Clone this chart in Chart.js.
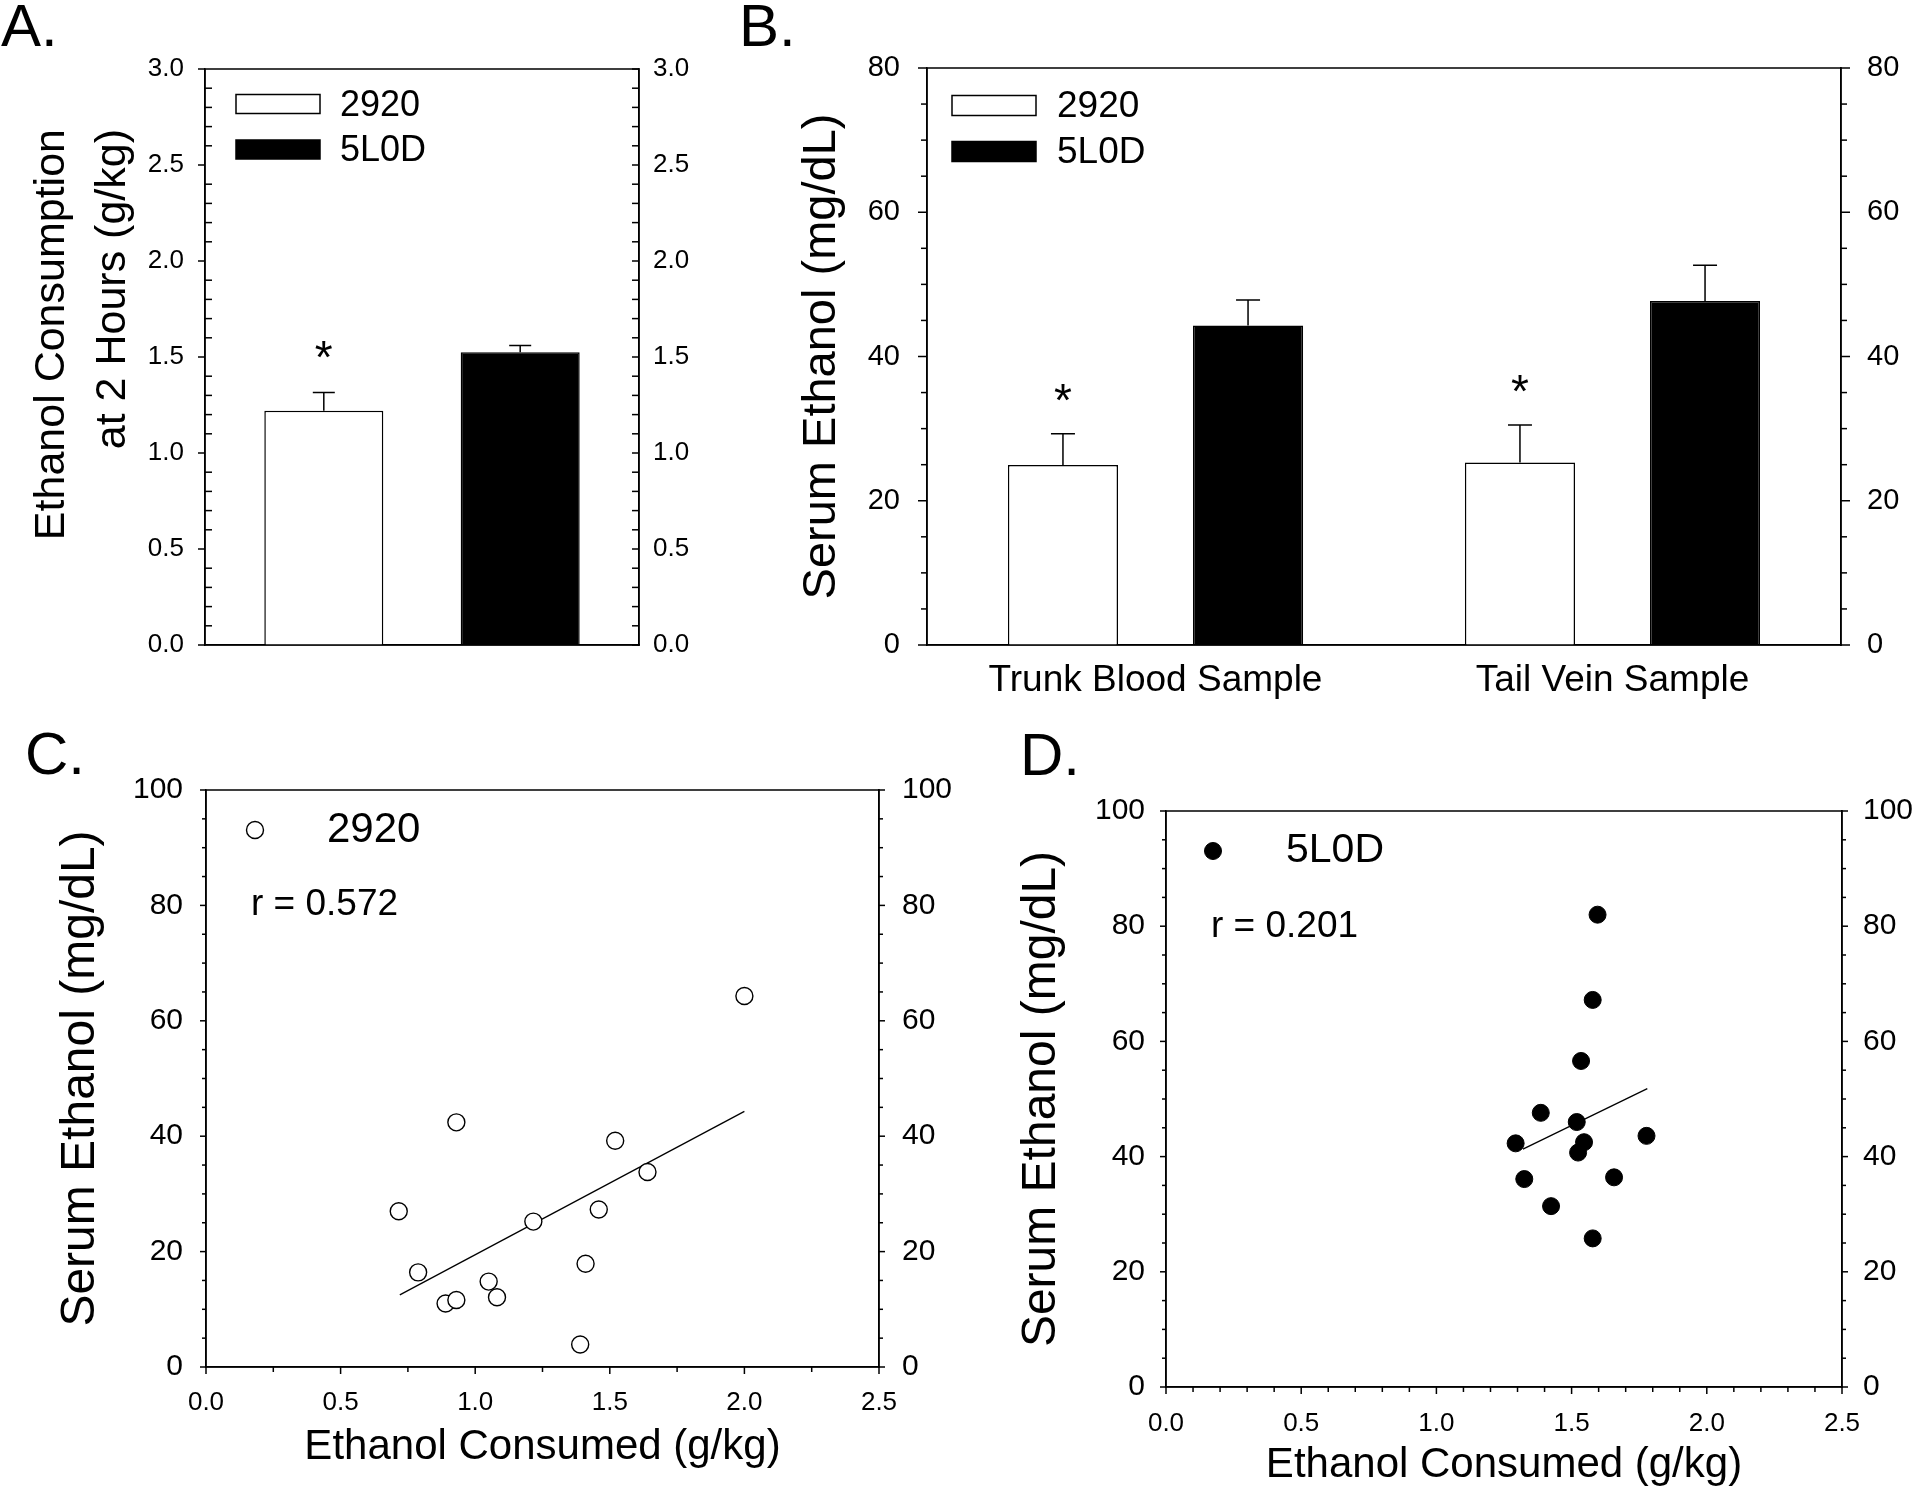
<!DOCTYPE html>
<html><head><meta charset="utf-8">
<script src="https://cdn.jsdelivr.net/npm/chart.js@4.4.1/dist/chart.umd.min.js"></script>
<style>
html,body{margin:0;padding:0;background:#fff;}
#wrap{position:relative;width:1915px;height:1493px;overflow:hidden;background:#fff;}
canvas{position:absolute;left:0;top:0;}
</style></head><body>
<div id="wrap">
<canvas id="cA" width="1915" height="1493"></canvas>
<canvas id="cB" width="1915" height="1493"></canvas>
<canvas id="cC" width="1915" height="1493"></canvas>
<canvas id="cD" width="1915" height="1493"></canvas>
</div>
<script>
// ---------------- DATA ----------------
const groups = ['2920', '5L0D'];

// Panel A: ethanol consumption at 2 hours (g/kg)
const consumptionMeans = [1.22, 1.525];
const consumptionSEM   = [0.095, 0.035];
const consumptionSig   = ['*', ''];

// Panel B: serum ethanol (mg/dL)
const sampleCategories = ['Trunk Blood Sample', 'Tail Vein Sample'];
const serum2920     = [24.95, 25.3];
const serum2920SEM  = [4.35, 5.2];
const serum2920Sig  = ['*', '*'];
const serum5L0D     = [44.3, 47.7];
const serum5L0DSEM  = [3.55, 4.95];
const serum5L0DSig  = ['', ''];

// Panel C: 2920 individual animals
const consumed2920 = [0.716, 0.788, 0.890, 0.930, 0.930, 1.050, 1.081, 1.216, 1.390, 1.410, 1.459, 1.520, 1.640, 2.000];
const serumInd2920 = [27.0, 16.4, 11.0, 11.6, 42.4, 14.8, 12.1, 25.2, 3.9, 17.9, 27.3, 39.2, 33.8, 64.3];
const fit2920X = [0.72, 2.0];
const fit2920Y = [12.5, 44.3];
const r2920 = 'r = 0.572';

// Panel D: 5L0D individual animals
const consumed5L0D = [1.293, 1.325, 1.386, 1.424, 1.519, 1.524, 1.535, 1.546, 1.578, 1.578, 1.596, 1.657, 1.777];
const serumInd5L0D = [42.3, 36.1, 47.6, 31.4, 46.0, 40.7, 56.6, 42.5, 67.2, 25.8, 82.0, 36.4, 43.6];
const fit5L0DX = [1.32, 1.78];
const fit5L0DY = [41.3, 51.8];
const r5L0D = 'r = 0.201';

const panelLetters = ['A.', 'B.', 'C.', 'D.'];
const titleA = ['Ethanol Consumption', 'at 2 Hours (g/kg)'];
const titleSerum = 'Serum Ethanol (mg/dL)';
const titleConsumed = 'Ethanol Consumed (g/kg)';

// ---------------- SETUP ----------------
const FONT = '"Liberation Sans", Arial, Helvetica, sans-serif';
Chart.defaults.font.family = FONT;
Chart.defaults.color = '#000';
Chart.defaults.animation = false;
Chart.defaults.plugins.legend.display = false;
Chart.defaults.plugins.tooltip.enabled = false;

const extras = {};

const decorPlugin = {
  id: 'decor',
  afterDraw(chart) {
    const cfg = extras[chart.canvas.id];
    if (!cfg) return;
    const ctx = chart.ctx, a = chart.chartArea;
    ctx.save();
    ctx.strokeStyle = '#000';
    ctx.lineWidth = 1.5;
    ctx.beginPath();
    ctx.rect(a.left, a.top, a.right - a.left, a.bottom - a.top);
    ctx.stroke();
    (cfg.ticks || []).forEach(t => {
      const s = chart.scales[t.id];
      const n = Math.round((s.max - s.min) / t.minor);
      for (let i = 0; i <= n; i++) {
        const v = s.min + i * t.minor;
        const q = v / t.major;
        const isMajor = Math.abs(q - Math.round(q)) < 1e-6;
        const len = isMajor ? t.majorLen : t.minorLen;
        const dir = isMajor ? t.majorDir : t.minorDir;
        const p = s.getPixelForValue(v);
        ctx.beginPath();
        if (s.isHorizontal()) {
          ctx.moveTo(p, a.bottom); ctx.lineTo(p, a.bottom + dir * len);
        } else {
          const x0 = s.position === 'left' ? a.left : a.right;
          const sg = s.position === 'left' ? -1 : 1;
          ctx.moveTo(x0, p); ctx.lineTo(x0 + sg * dir * len, p);
        }
        ctx.stroke();
      }
    });
    if (cfg.err) {
      const ys = chart.scales.y;
      chart.data.datasets.forEach((ds, di) => {
        if (!ds.errors) return;
        const meta = chart.getDatasetMeta(di);
        meta.data.forEach((el, i) => {
          const top = ys.getPixelForValue(ds.data[i] + ds.errors[i]);
          ctx.strokeStyle = '#000';
          ctx.lineWidth = 1.5;
          ctx.beginPath();
          ctx.moveTo(el.x, el.y); ctx.lineTo(el.x, top);
          ctx.moveTo(el.x - cfg.err.cap / 2, top); ctx.lineTo(el.x + cfg.err.cap / 2, top);
          ctx.stroke();
          if (ds.marks && ds.marks[i]) {
            ctx.fillStyle = '#000';
            ctx.font = cfg.err.markSize + 'px ' + FONT;
            ctx.textAlign = 'center';
            ctx.textBaseline = 'middle';
            ctx.fillText(ds.marks[i], el.x, top - cfg.err.markGap + 0.225 * cfg.err.markSize);
          }
        });
      });
    }
    if (cfg.legend) {
      const L = cfg.legend;
      let row = 0;
      chart.data.datasets.forEach(ds => {
        if (ds.inLegend === false) return;
        const cy = L.y + row * L.gap;
        ctx.strokeStyle = '#000';
        ctx.lineWidth = 1.5;
        if (L.kind === 'box') {
          ctx.fillStyle = ds.backgroundColor;
          ctx.fillRect(L.x, cy - L.h / 2, L.w, L.h);
          ctx.strokeRect(L.x, cy - L.h / 2, L.w, L.h);
        } else {
          ctx.beginPath();
          ctx.arc(L.x, cy, ds.pointRadius, 0, Math.PI * 2);
          ctx.fillStyle = ds.pointBackgroundColor;
          ctx.fill();
          ctx.lineWidth = ds.pointBorderWidth;
          ctx.stroke();
        }
        ctx.fillStyle = '#000';
        ctx.font = L.size + 'px ' + FONT;
        ctx.textAlign = 'left';
        ctx.textBaseline = 'middle';
        ctx.fillText(ds.label, L.textX, cy + (L.dy || 0));
        row++;
      });
    }
    (cfg.texts || []).forEach(t => {
      ctx.save();
      ctx.fillStyle = '#000';
      ctx.font = t.size + 'px ' + FONT;
      ctx.textAlign = t.align || 'left';
      ctx.textBaseline = t.baseline || 'middle';
      ctx.translate(t.x, t.y);
      if (t.rot) ctx.rotate(t.rot);
      ctx.fillText(t.text, 0, 0);
      ctx.restore();
    });
    ctx.restore();
  }
};
Chart.register(decorPlugin);

const BORDER = {display: true, color: '#000', width: 1.5};
const NOGRID = {display: false, drawTicks: false};
const tickFont = size => ({size: size, family: FONT});

// ---------------- PANEL A ----------------
extras.cA = {
  ticks: [
    {id: 'y', major: 0.5, minor: 0.1, majorLen: 7, minorLen: 7, majorDir: 1, minorDir: -1},
    {id: 'y2', major: 0.5, minor: 0.1, majorLen: 7, minorLen: 7, majorDir: -1, minorDir: -1}
  ],
  err: {cap: 22, markGap: 43, markSize: 46},
  legend: {kind: 'box', x: 236, y: 104, gap: 45.5, w: 84, h: 19, textX: 340, size: 36, dy: 2},
  texts: [
    {text: panelLetters[0], x: 1, y: 46, size: 60, baseline: 'alphabetic'},
    {text: titleA[0], x: 52, y: 129, size: 43, align: 'right', rot: -Math.PI / 2},
    {text: titleA[1], x: 113, y: 129, size: 43, align: 'right', rot: -Math.PI / 2}
  ]
};
new Chart(document.getElementById('cA'), {
  type: 'bar',
  data: {
    labels: [''],
    datasets: [
      {label: groups[0], data: [consumptionMeans[0]], errors: [consumptionSEM[0]], marks: [consumptionSig[0]],
       backgroundColor: '#fff', borderColor: '#000', borderWidth: 1.5, categoryPercentage: 0.905, barPercentage: 0.606},
      {label: groups[1], data: [consumptionMeans[1]], errors: [consumptionSEM[1]], marks: [consumptionSig[1]],
       backgroundColor: '#000', borderColor: '#000', borderWidth: 1.5, categoryPercentage: 0.905, barPercentage: 0.606}
    ]
  },
  options: {
    responsive: false,
    layout: {padding: {left: 100, right: 1196, top: 69, bottom: 848}},
    scales: {
      x: {grid: NOGRID, border: BORDER, ticks: {display: false}, afterFit: s => { s.height = 0; }},
      y: {min: 0, max: 3, grid: NOGRID, border: BORDER,
          ticks: {stepSize: 0.5, padding: 21, font: tickFont(26), color: '#000', callback: v => Number(v).toFixed(1)},
          afterFit: s => { s.width = 105; }},
      y2: {position: 'right', min: 0, max: 3, grid: NOGRID, border: BORDER,
           ticks: {stepSize: 0.5, padding: 14, font: tickFont(26), color: '#000', callback: v => Number(v).toFixed(1)},
           afterFit: s => { s.width = 80; }}
    }
  }
});

// ---------------- PANEL B ----------------
extras.cB = {
  ticks: [
    {id: 'y', major: 20, minor: 5, majorLen: 9, minorLen: 6, majorDir: 1, minorDir: 1},
    {id: 'y2', major: 20, minor: 5, majorLen: 9, minorLen: 6, majorDir: 1, minorDir: 1}
  ],
  err: {cap: 24, markGap: 41, markSize: 46},
  legend: {kind: 'box', x: 952, y: 105.5, gap: 46, w: 84, h: 20, textX: 1057, size: 37, dy: 1},
  texts: [
    {text: panelLetters[1], x: 739, y: 46, size: 60, baseline: 'alphabetic'}
  ]
};
new Chart(document.getElementById('cB'), {
  type: 'bar',
  data: {
    labels: sampleCategories,
    datasets: [
      {label: groups[0], data: serum2920, errors: serum2920SEM, marks: serum2920Sig,
       backgroundColor: '#fff', borderColor: '#000', borderWidth: 1.5, categoryPercentage: 0.81, barPercentage: 0.595},
      {label: groups[1], data: serum5L0D, errors: serum5L0DSEM, marks: serum5L0DSig,
       backgroundColor: '#000', borderColor: '#000', borderWidth: 1.5, categoryPercentage: 0.81, barPercentage: 0.595}
    ]
  },
  options: {
    responsive: false,
    layout: {padding: {left: 794, right: 0, top: 68, bottom: 768}},
    scales: {
      x: {grid: NOGRID, border: BORDER,
          ticks: {padding: 14, font: {size: 37}, color: '#000', maxRotation: 0, minRotation: 0, autoSkip: false},
          afterFit: s => { s.height = 80; }},
      y: {min: 0, max: 80, grid: NOGRID, border: BORDER,
          ticks: {stepSize: 20, padding: 27, font: tickFont(29), color: '#000'},
          title: {display: true, text: titleSerum, font: {size: 47}, color: '#000', padding: 0},
          afterFit: s => { s.width = 133; }},
      y2: {position: 'right', min: 0, max: 80, grid: NOGRID, border: BORDER,
           ticks: {stepSize: 20, padding: 26, font: tickFont(29), color: '#000'},
           afterFit: s => { s.width = 74; }}
    }
  }
});

// ---------------- PANEL C ----------------
extras.cC = {
  ticks: [
    {id: 'x', major: 0.5, minor: 0.25, majorLen: 7, minorLen: 5, majorDir: 1, minorDir: 1},
    {id: 'y', major: 20, minor: 5, majorLen: 6, minorLen: 4, majorDir: 1, minorDir: 1},
    {id: 'y2', major: 20, minor: 5, majorLen: 6, minorLen: 4, majorDir: 1, minorDir: 1}
  ],
  legend: {kind: 'point', x: 255, y: 830, gap: 0, textX: 327, size: 42},
  texts: [
    {text: panelLetters[2], x: 25, y: 774, size: 60, baseline: 'alphabetic'},
    {text: r2920, x: 251, y: 905, size: 37}
  ]
};
new Chart(document.getElementById('cC'), {
  type: 'scatter',
  data: {
    datasets: [
      {label: groups[0], data: consumed2920.map((x, i) => ({x: x, y: serumInd2920[i]})),
       pointRadius: 8.5, pointBackgroundColor: '#fff', pointBorderColor: '#000', pointBorderWidth: 1.4,
       backgroundColor: '#fff', borderColor: '#000'},
      {type: 'line', label: 'fit', inLegend: false, data: fit2920X.map((x, i) => ({x: x, y: fit2920Y[i]})),
       pointRadius: 0, borderColor: '#000', borderWidth: 1.3, fill: false}
    ]
  },
  options: {
    responsive: false,
    layout: {padding: {left: 52, right: 956, top: 790, bottom: 20}},
    scales: {
      x: {type: 'linear', min: 0, max: 2.5, grid: NOGRID, border: BORDER,
          ticks: {stepSize: 0.5, padding: 20, font: tickFont(26), color: '#000', callback: v => Number(v).toFixed(1)},
          title: {display: true, text: titleConsumed, font: {size: 42}, color: '#000', padding: 0},
          afterFit: s => { s.height = 106; }},
      y: {min: 0, max: 100, grid: NOGRID, border: BORDER,
          ticks: {stepSize: 20, padding: 23, font: tickFont(30), color: '#000'},
          title: {display: true, text: titleSerum, font: {size: 48}, color: '#000', padding: 0},
          afterFit: s => { s.width = 154; }},
      y2: {type: 'linear', position: 'right', min: 0, max: 100, grid: NOGRID, border: BORDER,
           ticks: {stepSize: 20, padding: 23, font: tickFont(30), color: '#000'},
           afterFit: s => { s.width = 80; }}
    }
  }
});

// ---------------- PANEL D ----------------
extras.cD = {
  ticks: [
    {id: 'x', major: 0.5, minor: 0.1, majorLen: 7, minorLen: 5, majorDir: 1, minorDir: 1},
    {id: 'y', major: 20, minor: 5, majorLen: 6, minorLen: 4, majorDir: 1, minorDir: 1},
    {id: 'y2', major: 20, minor: 5, majorLen: 6, minorLen: 4, majorDir: 1, minorDir: 1}
  ],
  legend: {kind: 'point', x: 1213, y: 851, gap: 0, textX: 1286, size: 41},
  texts: [
    {text: panelLetters[3], x: 1020, y: 775, size: 60, baseline: 'alphabetic'},
    {text: r5L0D, x: 1211, y: 927, size: 37}
  ]
};
new Chart(document.getElementById('cD'), {
  type: 'scatter',
  data: {
    datasets: [
      {label: groups[1], data: consumed5L0D.map((x, i) => ({x: x, y: serumInd5L0D[i]})),
       pointRadius: 8.5, pointBackgroundColor: '#000', pointBorderColor: '#000', pointBorderWidth: 1,
       backgroundColor: '#000', borderColor: '#000'},
      {type: 'line', label: 'fit', inLegend: false, data: fit5L0DX.map((x, i) => ({x: x, y: fit5L0DY[i]})),
       pointRadius: 0, borderColor: '#000', borderWidth: 1.3, fill: false}
    ]
  },
  options: {
    responsive: false,
    layout: {padding: {left: 1013, right: 0, top: 811, bottom: 2}},
    scales: {
      x: {type: 'linear', min: 0, max: 2.5, grid: NOGRID, border: BORDER,
          ticks: {stepSize: 0.5, padding: 21, font: tickFont(26), color: '#000', callback: v => Number(v).toFixed(1)},
          title: {display: true, text: titleConsumed, font: {size: 42}, color: '#000', padding: 0},
          afterFit: s => { s.height = 104; }},
      y: {min: 0, max: 100, grid: NOGRID, border: BORDER,
          ticks: {stepSize: 20, padding: 21, font: tickFont(30), color: '#000'},
          title: {display: true, text: titleSerum, font: {size: 48}, color: '#000', padding: 0},
          afterFit: s => { s.width = 153; }},
      y2: {type: 'linear', position: 'right', min: 0, max: 100, grid: NOGRID, border: BORDER,
           ticks: {stepSize: 20, padding: 21, font: tickFont(30), color: '#000'},
           afterFit: s => { s.width = 73; }}
    }
  }
});
</script>
</body></html>
